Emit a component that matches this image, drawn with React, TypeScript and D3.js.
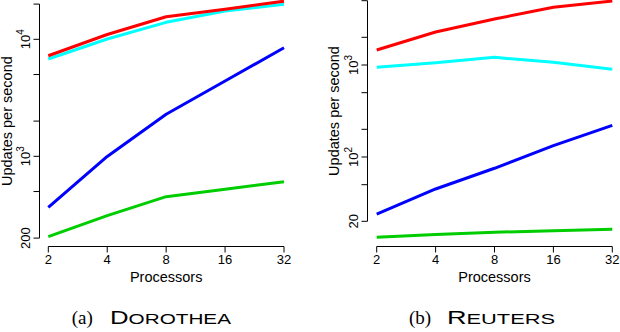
import React from 'react';
import * as d3 from 'd3';

// processors on the x axis
const processors = [2, 4, 8, 16, 32];

// DOROTHEA, updates per second
const dorotheaRed = [7240, 11000, 15600, 18100, 21200];
const dorotheaCyan = [6790, 10060, 13970, 17460, 19900];
const dorotheaBlue = [366, 998, 2290, 4400, 8480];
const dorotheaGreen = [206, 311, 452, 522, 607];

// REUTERS, updates per second
const reutersRed = [1456, 2284, 3162, 4240, 4960];
const reutersCyan = [944, 1059, 1212, 1069, 898];
const reutersBlue = [24, 44.9, 75.4, 132.7, 221];
const reutersGreen = [13.4, 14.4, 15.2, 15.8, 16.4];

const dorotheaTicks = [200, 500, 1000, 2000, 5000, 10000, 20000];
const reutersTicks = [20, 50, 100, 200, 500, 1000, 2000, 5000];

const colors = { red: '#FF0000', cyan: '#00FFFF', blue: '#0000FF', green: '#00CD00' };

const FONT = '"Liberation Sans", Arial, Helvetica, sans-serif';
const SERIF = '"Liberation Serif", "DejaVu Serif", serif';

type Label = { v: number; base: string; exp?: string };

type PanelProps = {
  xRange: [number, number];
  yDomain: [number, number];
  yRange: [number, number];
  axisX: number;
  axisY: number;
  ticks: number[];
  labels: Label[];
  titleX: number;
  series: { color: string; values: number[] }[];
  capLeft: number;
  capTag: string;
  capWord: string;
  capWordX: number;
  capWordLen: number;
};

function Panel(p: PanelProps) {
  const x = d3.scaleLog().base(2).domain([2, 32]).range(p.xRange);
  const y = d3.scaleLog().domain(p.yDomain).range(p.yRange);
  const line = d3
    .line<number>()
    .x((_, i) => x(processors[i]))
    .y((d) => y(d));
  const tMin = d3.min(p.ticks)!;
  const tMax = d3.max(p.ticks)!;
  const midX = (p.xRange[0] + p.xRange[1]) / 2;
  const midY = (y(tMin) + y(tMax)) / 2;
  return (
    <g>
      {p.series.map((s, i) => (
        <path
          key={i}
          d={line(s.values) || ''}
          fill="none"
          stroke={s.color}
          strokeWidth={3}
          strokeLinejoin="round"
        />
      ))}
      {/* x axis */}
      <line x1={x(2)} x2={x(32)} y1={p.axisY} y2={p.axisY} stroke="#000" />
      {processors.map((v) => (
        <g key={v}>
          <line x1={x(v)} x2={x(v)} y1={p.axisY} y2={p.axisY + 6} stroke="#000" />
          <text x={x(v)} y={p.axisY + 17} textAnchor="middle" fontSize={13} fontFamily={FONT}>
            {v}
          </text>
        </g>
      ))}
      <text x={midX} y={p.axisY + 35} textAnchor="middle" fontSize={14.5} fontFamily={FONT}>
        Processors
      </text>
      {/* y axis */}
      <line x1={p.axisX} x2={p.axisX} y1={y(tMin)} y2={y(tMax)} stroke="#000" />
      {p.ticks.map((v) => (
        <line key={v} x1={p.axisX - 6} x2={p.axisX} y1={y(v)} y2={y(v)} stroke="#000" />
      ))}
      {p.labels.map((l) => (
        <text
          key={l.v}
          transform={`translate(${p.axisX - 10},${y(l.v)}) rotate(-90)`}
          textAnchor="middle"
          fontSize={13}
          fontFamily={FONT}
        >
          {l.base}
          {l.exp && (
            <tspan dy={-6} fontSize={10}>
              {l.exp}
            </tspan>
          )}
        </text>
      ))}
      <text
        transform={`translate(${p.titleX},${midY}) rotate(-90)`}
        textAnchor="middle"
        fontSize={14.5}
        fontFamily={FONT}
      >
        Updates per second
      </text>
      {/* caption */}
      <text x={p.capLeft} y={324} fontSize={19} fontFamily={SERIF}>
        {p.capTag}
      </text>
      <text
        x={p.capWordX}
        y={324}
        fontFamily={FONT}
        textLength={p.capWordLen}
        lengthAdjust="spacingAndGlyphs"
      >
        <tspan fontSize={18}>{p.capWord[0]}</tspan>
        <tspan fontSize={14.5}>{p.capWord.slice(1).toUpperCase()}</tspan>
      </text>
    </g>
  );
}

export default function App() {
  return (
    <svg
      width={620}
      height={332}
      style={{ position: 'absolute', left: 0, top: 0, background: '#fff' }}
    >
      <rect width={620} height={332} fill="#fff" />
      <Panel
        xRange={[48.3, 284]}
        yDomain={[200, 20000]}
        yRange={[238.1, 4.1]}
        axisX={39.5}
        axisY={246.5}
        ticks={dorotheaTicks}
        labels={[
          { v: 200, base: '200' },
          { v: 1000, base: '10', exp: '3' },
          { v: 10000, base: '10', exp: '4' },
        ]}
        titleX={12}
        series={[
          { color: colors.cyan, values: dorotheaCyan },
          { color: colors.red, values: dorotheaRed },
          { color: colors.blue, values: dorotheaBlue },
          { color: colors.green, values: dorotheaGreen },
        ]}
        capLeft={71.7}
        capTag="(a)"
        capWord="Dorothea"
        capWordX={110}
        capWordLen={121}
      />
      <Panel
        xRange={[376.7, 612.3]}
        yDomain={[20, 5000]}
        yRange={[221.3, 0.7]}
        axisX={367.5}
        axisY={246.5}
        ticks={reutersTicks}
        labels={[
          { v: 20, base: '20' },
          { v: 100, base: '10', exp: '2' },
          { v: 1000, base: '10', exp: '3' },
        ]}
        titleX={339}
        series={[
          { color: colors.cyan, values: reutersCyan },
          { color: colors.red, values: reutersRed },
          { color: colors.blue, values: reutersBlue },
          { color: colors.green, values: reutersGreen },
        ]}
        capLeft={409}
        capTag="(b)"
        capWord="Reuters"
        capWordX={447}
        capWordLen={108}
      />
    </svg>
  );
}
